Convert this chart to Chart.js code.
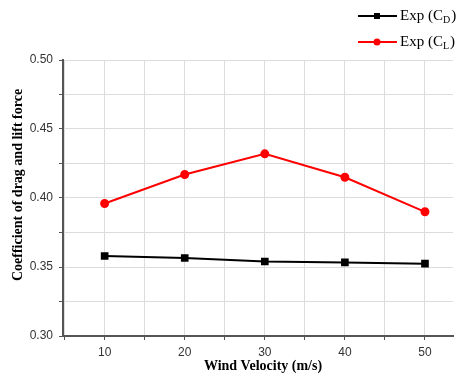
<!DOCTYPE html>
<html>
<head>
<meta charset="utf-8">
<script src="https://cdn.jsdelivr.net/npm/chart.js@4.4.1/dist/chart.umd.min.js"></script>
<style>
  html, body { margin: 0; padding: 0; background: #fff; }
  #wrap { position: relative; width: 459px; height: 385px; }
</style>
</head>
<body>
<div id="wrap"><canvas id="c" width="459" height="385"></canvas></div>
<script>
const windVelocity = [10, 20, 30, 40, 50];
const dragCoef = [0.358, 0.3565, 0.354, 0.3533, 0.3524];
const liftCoef = [0.396, 0.417, 0.432, 0.415, 0.390];
const xGridValues = [5, 10, 15, 20, 25, 30, 35, 40, 45, 50];
const legendLabels = [
  { base: "Exp (C", sub: "D", color: "#000000", style: "rect" },
  { base: "Exp (C", sub: "L", color: "#ff0000", style: "circle" },
];
const xTitle = "Wind Velocity (m/s)";
const yTitle = "Coefficient of drag and lift force";

const AXIS = "#555";
const GRID = "#dcdcdc";

// legend with subscripts + axis titles, drawn by hand
const extrasPlugin = {
  id: "extras",
  afterDraw(chart) {
    const ctx = chart.ctx;
    ctx.save();
    legendLabels.forEach((l, i) => {
      const y = 16 + i * 26;
      ctx.strokeStyle = l.color;
      ctx.fillStyle = l.color;
      ctx.lineWidth = 2;
      ctx.beginPath();
      ctx.moveTo(358, y);
      ctx.lineTo(397, y);
      ctx.stroke();
      if (l.style === "rect") {
        ctx.fillRect(374, y - 3, 6, 6);
      } else {
        ctx.beginPath();
        ctx.arc(377, y, 3.5, 0, Math.PI * 2);
        ctx.fill();
      }
      ctx.fillStyle = "#000";
      ctx.font = "15px 'Liberation Serif'";
      ctx.textBaseline = "middle";
      ctx.textAlign = "left";
      ctx.fillText(l.base, 400, y);
      let w = ctx.measureText(l.base).width;
      ctx.font = "10px 'Liberation Serif'";
      ctx.fillText(l.sub, 400 + w, y + 4);
      let w2 = ctx.measureText(l.sub).width;
      ctx.font = "15px 'Liberation Serif'";
      ctx.fillText(")", 400 + w + w2 + 1, y);
    });

    ctx.fillStyle = "#000";
    ctx.font = "bold 14px 'Liberation Serif'";
    ctx.textAlign = "center";
    ctx.textBaseline = "middle";
    ctx.fillText(xTitle, 263, 366);

    ctx.translate(18, 185);
    ctx.rotate(-Math.PI / 2);
    ctx.fillText(yTitle, 0, 0);
    ctx.restore();
  }
};

new Chart(document.getElementById("c"), {
  type: "line",
  data: {
    datasets: [
      {
        label: "Exp (CD)",
        data: windVelocity.map((v, i) => ({ x: v, y: dragCoef[i] })),
        borderColor: "#000",
        backgroundColor: "#000",
        borderWidth: 2,
        pointStyle: "rect",
        pointRadius: 4,
        pointHoverRadius: 4,
        tension: 0,
      },
      {
        label: "Exp (CL)",
        data: windVelocity.map((v, i) => ({ x: v, y: liftCoef[i] })),
        borderColor: "#ff0000",
        backgroundColor: "#ff0000",
        borderWidth: 2,
        pointStyle: "circle",
        pointRadius: 3.5,
        pointHoverRadius: 3.5,
        tension: 0,
      },
    ],
  },
  options: {
    responsive: false,
    animation: false,
    layout: { padding: { top: 60, right: 0, left: 0, bottom: 0 } },
    plugins: { legend: { display: false }, tooltip: { enabled: false } },
    scales: {
      x: {
        type: "linear",
        min: 4.8,
        max: 53.5,
        afterBuildTicks: s => { s.ticks = xGridValues.map(v => ({ value: v })); },
        afterFit: s => { s.height = 49; },
        ticks: {
          autoSkip: false,
          maxRotation: 0,
          color: "#333",
          font: { family: "'Liberation Sans'", size: 12 },
          callback: v => (v % 10 === 0 ? v : ""),
          padding: 5,
        },
        grid: { color: GRID, lineWidth: 1, tickColor: AXIS, tickLength: 4, drawTicks: true },
        border: { color: AXIS, width: 2 },
      },
      y: {
        min: 0.30,
        max: 0.50,
        afterFit: s => { s.width = 63; },
        ticks: {
          stepSize: 0.025,
          autoSkip: false,
          color: "#333",
          font: { family: "'Liberation Sans'", size: 12 },
          callback: v => (Math.abs(v * 20 - Math.round(v * 20)) < 1e-6 ? v.toFixed(2) : ""),
          padding: 6,
        },
        grid: { color: GRID, lineWidth: 1, tickColor: AXIS, tickLength: 4 },
        border: { color: AXIS, width: 2 },
      },
    },
  },
  plugins: [extrasPlugin],
});
</script>
</body>
</html>
